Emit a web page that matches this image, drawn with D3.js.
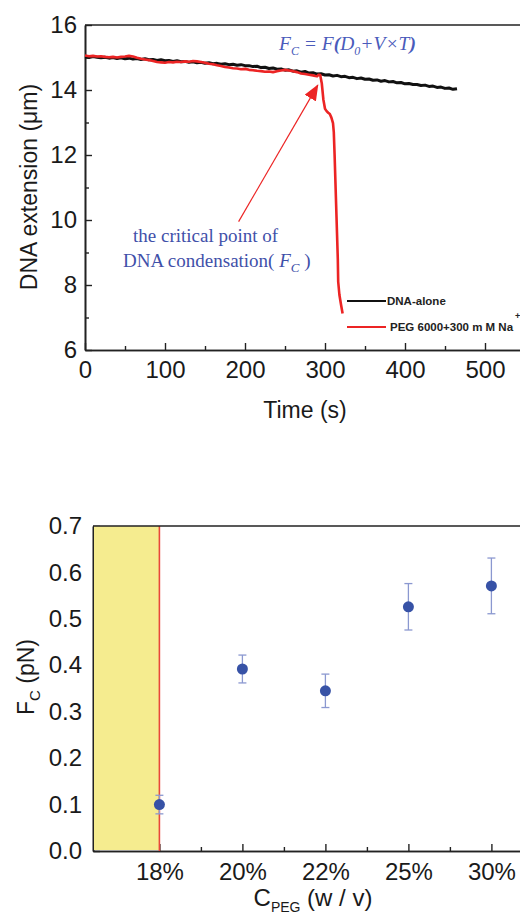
<!DOCTYPE html>
<html>
<head>
<meta charset="utf-8">
<script src="https://cdn.jsdelivr.net/npm/d3@7"></script>
<style>
  html, body { margin: 0; padding: 0; background: #fff; }
  svg { display: block; }
  .tick text { font-family: "Liberation Sans", Arial, sans-serif; }
</style>
</head>
<body>
<svg id="chart" width="520" height="919"></svg>
<script>
// ---- Top panel: extension traces (time in s, extension in µm) ----
const aloneTime = d3.range(0, 466, 5);
const aloneExt = [
  15.02, 15.00, 15.03, 15.01, 14.99, 15.01, 14.98, 15.00, 14.97, 14.99,
  14.96, 14.98, 14.95, 14.97, 14.94, 14.96, 14.93, 14.94, 14.91, 14.93,
  14.90, 14.91, 14.88, 14.90, 14.87, 14.88, 14.85, 14.87, 14.84, 14.85,
  14.82, 14.84, 14.81, 14.82, 14.79, 14.81, 14.78, 14.79, 14.76, 14.78,
  14.75, 14.75, 14.72, 14.73, 14.69, 14.70, 14.66, 14.68, 14.64, 14.65,
  14.61, 14.62, 14.58, 14.59, 14.55, 14.57, 14.52, 14.53, 14.49, 14.50,
  14.46, 14.47, 14.43, 14.45, 14.41, 14.42, 14.38, 14.39, 14.35, 14.37,
  14.33, 14.34, 14.30, 14.31, 14.27, 14.29, 14.25, 14.26, 14.22, 14.23,
  14.19, 14.20, 14.17, 14.17, 14.14, 14.15, 14.11, 14.12, 14.08, 14.09,
  14.05, 14.06, 14.02, 14.04
];

const pegTime = [
  0, 5, 10, 15, 20, 25, 30, 35, 40, 45, 50, 55, 60, 65, 70, 75, 80, 85, 90, 95,
  100, 105, 110, 115, 120, 125, 130, 135, 140, 145, 150, 155, 160, 165, 170, 175,
  180, 185, 190, 195, 200, 205, 210, 215, 220, 225, 230, 235, 240, 245, 250, 255,
  260, 265, 270, 275, 280, 285, 288, 290, 292, 294, 296, 298, 300, 302, 304, 306,
  308, 310, 311, 312, 313, 314, 315, 316, 316.5, 318, 320, 322
];
const pegExt = [
  15.06, 15.04, 15.05, 15.03, 15.04, 15.02, 15.01, 15.02, 15.00, 15.02,
  15.03, 15.05, 15.03, 14.99, 14.96, 14.94, 14.92, 14.89, 14.86, 14.85,
  14.84, 14.86, 14.85, 14.87, 14.86, 14.88, 14.87, 14.89, 14.88, 14.86,
  14.84, 14.81, 14.79, 14.76, 14.74, 14.71, 14.69, 14.67, 14.66, 14.64,
  14.65, 14.62, 14.61, 14.59, 14.58, 14.56, 14.57, 14.55, 14.58, 14.60,
  14.62, 14.60, 14.58, 14.55, 14.51, 14.49, 14.47, 14.45, 14.43, 14.42,
  14.47, 14.46, 14.20, 13.70, 13.42, 13.35, 13.30, 13.26, 13.15, 12.98,
  12.70, 12.00, 11.20, 10.40, 9.60, 8.80, 8.10, 7.70, 7.40, 7.12
];

const timeTicks = [0, 100, 200, 300, 400, 500];
const extTicks = [6, 8, 10, 12, 14, 16];
const legendLabels = ["DNA-alone", "PEG 6000+300 m M Na"];

// ---- Bottom panel: critical force vs PEG concentration ----
const pegConc = ["18%", "20%", "22%", "25%", "30%"];
const forceFc = [0.10, 0.392, 0.345, 0.526, 0.571];
const forceErr = [0.02, 0.030, 0.036, 0.050, 0.060];
const fcTicks = [0.0, 0.1, 0.2, 0.3, 0.4, 0.5, 0.6, 0.7];

const FONT = '"Liberation Sans", Arial, sans-serif';
const SERIF = '"Liberation Serif", "Times New Roman", serif';
const BLUE_TXT = "#3f50a9";
const RED = "#ec2424";
const AXIS = "#222";

const svg = d3.select("#chart");

function styleAxis(g) {
  g.select(".domain").attr("stroke", AXIS).attr("stroke-width", 1.6);
  g.selectAll(".tick line").attr("stroke", AXIS).attr("stroke-width", 1.4);
  g.selectAll(".tick text").attr("fill", "#1a1a1a").style("font-family", FONT);
}

// ================= top panel =================
const xT = d3.scaleLinear().domain([0, 550]).range([85, 525]);
const yT = d3.scaleLinear().domain([6, 16]).range([350, 25]);

const panelA = svg.append("g");

// minor ticks
panelA.append("g").attr("transform", `translate(0,${yT(6)})`)
  .call(d3.axisBottom(xT).tickValues(d3.range(50, 550, 100)).tickSize(-4).tickSizeOuter(0).tickFormat(""))
  .call(styleAxis);
panelA.append("g").attr("transform", `translate(${xT(0)},0)`)
  .call(d3.axisLeft(yT).tickValues(d3.range(7, 16, 2)).tickSize(-4).tickSizeOuter(0).tickFormat(""))
  .call(styleAxis);

// major axes
panelA.append("g").attr("transform", `translate(0,${yT(6)})`)
  .call(d3.axisBottom(xT).tickValues(timeTicks).tickSize(-7).tickSizeOuter(0).tickPadding(11))
  .call(styleAxis)
  .call(g => g.selectAll(".tick text").attr("font-size", 24));
panelA.append("g").attr("transform", `translate(${xT(0)},0)`)
  .call(d3.axisLeft(yT).tickValues(extTicks).tickSize(-7).tickSizeOuter(0).tickPadding(8))
  .call(styleAxis)
  .call(g => g.selectAll(".tick text").attr("font-size", 24));

// top frame edge
panelA.append("line")
  .attr("x1", xT(0)).attr("x2", xT(550))
  .attr("y1", yT(16)).attr("y2", yT(16))
  .attr("stroke", AXIS).attr("stroke-width", 1.6);

// traces
const lineT = d3.line().x(d => xT(d[0])).y(d => yT(d[1]));
panelA.append("path")
  .datum(aloneTime.map((t, i) => [t, aloneExt[i]]))
  .attr("d", lineT).attr("fill", "none")
  .attr("stroke", "#111").attr("stroke-width", 3).attr("stroke-linejoin", "round");
panelA.append("path")
  .datum(pegTime.map((t, i) => [t, pegExt[i]]))
  .attr("d", lineT).attr("fill", "none")
  .attr("stroke", RED).attr("stroke-width", 2.6).attr("stroke-linejoin", "round");

// arrow pointing at the condensation onset
svg.append("defs").append("marker")
  .attr("id", "arrowHead")
  .attr("viewBox", "0 0 16 13")
  .attr("refX", 15).attr("refY", 6.5)
  .attr("markerWidth", 16).attr("markerHeight", 13)
  .attr("markerUnits", "userSpaceOnUse")
  .attr("orient", "auto")
  .append("path").attr("d", "M0,0 L16,6.5 L0,13 Z").attr("fill", RED);

panelA.append("line")
  .attr("x1", xT(192)).attr("y1", yT(9.95))
  .attr("x2", xT(291)).attr("y2", yT(14.15))
  .attr("stroke", RED).attr("stroke-width", 1.2)
  .attr("marker-end", "url(#arrowHead)");

// formula
const formula = panelA.append("text")
  .attr("x", 279).attr("y", 50)
  .attr("font-family", SERIF).attr("font-style", "italic")
  .attr("font-size", 19.5).attr("fill", "#4a5bbb");
formula.append("tspan").text("F");
formula.append("tspan").attr("font-size", 12).attr("dy", 5).text("C");
formula.append("tspan").attr("dy", -5).text(" = F");
formula.append("tspan").attr("font-weight", "bold").text("(");
formula.append("tspan").text("D");
formula.append("tspan").attr("font-size", 12).attr("dy", 5).text("0");
formula.append("tspan").attr("dy", -5).text("+V×T");
formula.append("tspan").attr("font-weight", "bold").text(")");

// annotation text
panelA.append("text")
  .attr("x", 133).attr("y", 242)
  .attr("font-family", SERIF).attr("font-size", 19).attr("fill", BLUE_TXT)
  .text("the critical point of");
const ann2 = panelA.append("text")
  .attr("x", 123).attr("y", 267)
  .attr("font-family", SERIF).attr("font-size", 19).attr("fill", BLUE_TXT);
ann2.append("tspan").text("DNA condensation( ");
ann2.append("tspan").attr("font-style", "italic").text("F");
ann2.append("tspan").attr("font-style", "italic").attr("font-size", 13).attr("dy", 5).text("C");
ann2.append("tspan").attr("dy", -5).text(" )");

// legend
const legColors = ["#111", RED];
const legY = [301, 327];
legendLabels.forEach((lab, i) => {
  panelA.append("line")
    .attr("x1", 347).attr("x2", 386)
    .attr("y1", legY[i]).attr("y2", legY[i])
    .attr("stroke", legColors[i]).attr("stroke-width", 1.8);
  panelA.append("text")
    .attr("x", i === 0 ? 387 : 390).attr("y", legY[i] + 4)
    .attr("font-family", FONT).attr("font-weight", "bold")
    .attr("font-size", 11.5).attr("fill", "#222")
    .text(lab);
});
panelA.append("text")
  .attr("x", 515).attr("y", 319)
  .attr("font-family", FONT).attr("font-weight", "bold")
  .attr("font-size", 9).attr("fill", "#222").text("+");

// axis titles
panelA.append("text")
  .attr("transform", "translate(37,187) rotate(-90)")
  .attr("text-anchor", "middle")
  .attr("font-family", FONT).attr("font-size", 23).attr("fill", "#1a1a1a")
  .text("DNA extension (μm)");
panelA.append("text")
  .attr("x", 305).attr("y", 418)
  .attr("text-anchor", "middle")
  .attr("font-family", FONT).attr("font-size", 23).attr("fill", "#1a1a1a")
  .text("Time (s)");

// ================= bottom panel =================
const xB = d3.scaleLinear().domain([0.2, 5.6]).range([93, 93 + 5.4 * 83]);
const yB = d3.scaleLinear().domain([0, 0.7]).range([851, 526]);
const panelB = svg.append("g");

// minor ticks
panelB.append("g").attr("transform", `translate(0,${yB(0)})`)
  .call(d3.axisBottom(xB).tickValues([1.5, 2.5, 3.5, 4.5, 5.5]).tickSize(-4).tickSizeOuter(0).tickFormat(""))
  .call(styleAxis);
panelB.append("g").attr("transform", `translate(${xB(0.2)},0)`)
  .call(d3.axisLeft(yB).tickValues(d3.range(0.05, 0.7, 0.1)).tickSize(-4).tickSizeOuter(0).tickFormat(""))
  .call(styleAxis);

panelB.append("g").attr("transform", `translate(0,${yB(0)})`)
  .call(d3.axisBottom(xB).tickValues([1, 2, 3, 4, 5]).tickSize(-7).tickSizeOuter(0).tickPadding(12)
    .tickFormat((d, i) => pegConc[i]))
  .call(styleAxis)
  .call(g => g.selectAll(".tick text").attr("font-size", 24));
panelB.append("g").attr("transform", `translate(${xB(0.2)},0)`)
  .call(d3.axisLeft(yB).tickValues(fcTicks).tickSize(-7).tickSizeOuter(0).tickPadding(11)
    .tickFormat(d3.format(".1f")))
  .call(styleAxis)
  .call(g => g.selectAll(".tick text").attr("font-size", 24));

// shaded region below the lowest concentration
panelB.append("rect")
  .attr("x", xB(0.2) + 1).attr("y", yB(0.7))
  .attr("width", xB(1) - xB(0.2) - 1).attr("height", yB(0) - yB(0.7) - 1)
  .attr("fill", "#f5ec8f");
panelB.append("line")
  .attr("x1", xB(1)).attr("x2", xB(1))
  .attr("y1", yB(0)).attr("y2", yB(0.7))
  .attr("stroke", "#e8473c").attr("stroke-width", 1.6);

// top frame edge
panelB.append("line")
  .attr("x1", xB(0.2)).attr("x2", xB(5.6))
  .attr("y1", yB(0.7)).attr("y2", yB(0.7))
  .attr("stroke", AXIS).attr("stroke-width", 1.6);

// error bars and points
const pts = pegConc.map((c, i) => ({ x: i + 1, v: forceFc[i], e: forceErr[i] }));
const eb = panelB.append("g").attr("stroke", "#8b98d0").attr("stroke-width", 1.3);
pts.forEach(p => {
  eb.append("line").attr("x1", xB(p.x)).attr("x2", xB(p.x))
    .attr("y1", yB(p.v - p.e)).attr("y2", yB(p.v + p.e));
  [p.v - p.e, p.v + p.e].forEach(v => {
    eb.append("line").attr("x1", xB(p.x) - 4).attr("x2", xB(p.x) + 4)
      .attr("y1", yB(v)).attr("y2", yB(v));
  });
});
panelB.append("g").selectAll("circle").data(pts).join("circle")
  .attr("cx", d => xB(d.x)).attr("cy", d => yB(d.v))
  .attr("r", 5.5).attr("fill", "#3752a6");

// axis titles
const yl = panelB.append("text")
  .attr("transform", "translate(34,677) rotate(-90)")
  .attr("text-anchor", "middle")
  .attr("font-family", FONT).attr("font-size", 23).attr("fill", "#1a1a1a");
yl.append("tspan").text("F");
yl.append("tspan").attr("font-size", 15).attr("dy", 6).text("C");
yl.append("tspan").attr("dy", -6).text(" (pN)");

const xl = panelB.append("text")
  .attr("x", 313).attr("y", 906)
  .attr("text-anchor", "middle")
  .attr("font-family", FONT).attr("font-size", 24).attr("fill", "#1a1a1a");
xl.append("tspan").text("C");
xl.append("tspan").attr("font-size", 14).attr("dy", 6).text("PEG");
xl.append("tspan").attr("dy", -6).text(" (w / v)");
</script>
</body>
</html>
